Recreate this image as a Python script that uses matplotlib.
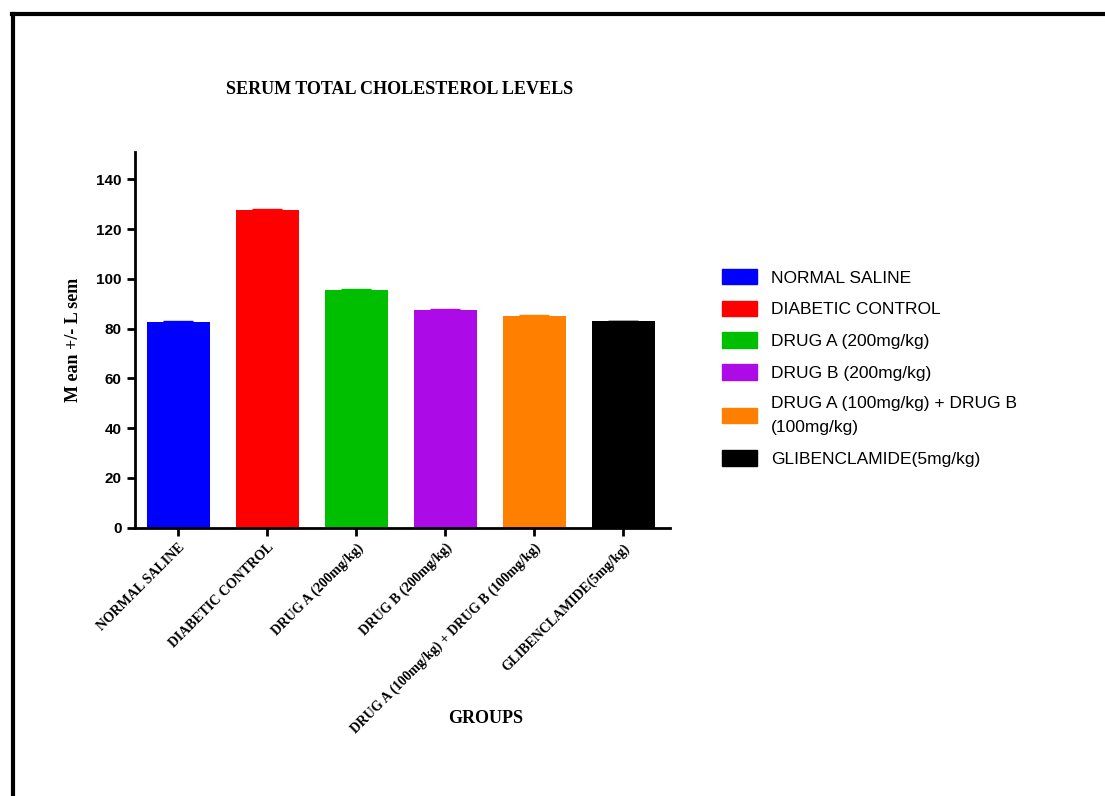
import matplotlib.pyplot as plt
from matplotlib.lines import Line2D
from matplotlib.patches import Patch
import numpy as np

# Group names, means and sem
groups = ["NORMAL SALINE", "DIABETIC CONTROL", "DRUG A (200mg/kg)",
          "DRUG B (200mg/kg)", "DRUG A (100mg/kg) + DRUG B (100mg/kg)",
          "GLIBENCLAMIDE(5mg/kg)"]
legend_labels = ["NORMAL SALINE", "DIABETIC CONTROL", "DRUG A (200mg/kg)",
                 "DRUG B (200mg/kg)", "DRUG A (100mg/kg) + DRUG B\n(100mg/kg)",
                 "GLIBENCLAMIDE(5mg/kg)"]
means = [82.6, 127.9, 95.4, 87.5, 85.2, 82.9]
sem = [0.3, 0.3, 0.4, 0.3, 0.4, 0.3]
colors = ["#0000ff", "#ff0000", "#00bf00", "#ac0ae6", "#ff8000", "#000000"]
yticks = [0, 20, 40, 60, 80, 100, 120, 140]

fig = plt.figure(figsize=(11.05, 7.96), dpi=100)
ax = fig.add_axes([0.122, 0.337, 0.484, 0.472])

x = np.arange(len(groups))
ax.bar(x, means, width=0.71, color=colors, zorder=2)
for xi, m, s, c in zip(x, means, sem, colors):
    ax.errorbar(xi, m, yerr=[[0], [s]], color=c, capsize=11, capthick=1.0,
                elinewidth=1, zorder=3)

ax.set_xlim(-0.49, 5.52)
ax.set_ylim(0, 151)
ax.set_yticks(yticks)
ax.set_yticklabels([str(v) for v in yticks], fontsize=11, fontweight="bold",
                   family="Liberation Sans")
ax.set_xticks(x)
ax.set_xticklabels(groups, rotation=45, ha="right", rotation_mode="anchor",
                   fontsize=10, fontweight="bold", family="Liberation Serif")

for side in ["top", "right"]:
    ax.spines[side].set_visible(False)
for side in ["left", "bottom"]:
    ax.spines[side].set_linewidth(2)
ax.tick_params(width=2, length=6, direction="out")

ax.set_ylabel("M ean +/- L sem", fontsize=13, fontweight="bold",
              family="Liberation Serif", labelpad=10)
ax.set_xlabel("GROUPS", fontsize=13, fontweight="bold",
              family="Liberation Serif")
ax.xaxis.set_label_coords(0.656, -0.486)

fig.text(0.362, 0.888, "SERUM TOTAL CHOLESTEROL LEVELS", ha="center",
         va="center", fontsize=13, fontweight="bold", family="Liberation Serif")

handles = [Patch(facecolor=c, edgecolor=c) for c in colors]
leg = fig.legend(handles, legend_labels, loc="upper left",
                 bbox_to_anchor=(0.647, 0.671), frameon=False,
                 borderaxespad=0,
                 prop={"family": "Liberation Sans", "size": 12.5},
                 handlelength=2.0, handleheight=1.0, handletextpad=0.85,
                 labelspacing=0.865)
for t in leg.get_texts():
    t.set_linespacing(1.8)

# outer frame
fig.add_artist(Line2D([0.011, 1.0], [0.982, 0.982], color="black", lw=3))
fig.add_artist(Line2D([0.0115, 0.0115], [0.0, 0.983], color="black", lw=3))

fig.savefig("out.png", dpi=100)
